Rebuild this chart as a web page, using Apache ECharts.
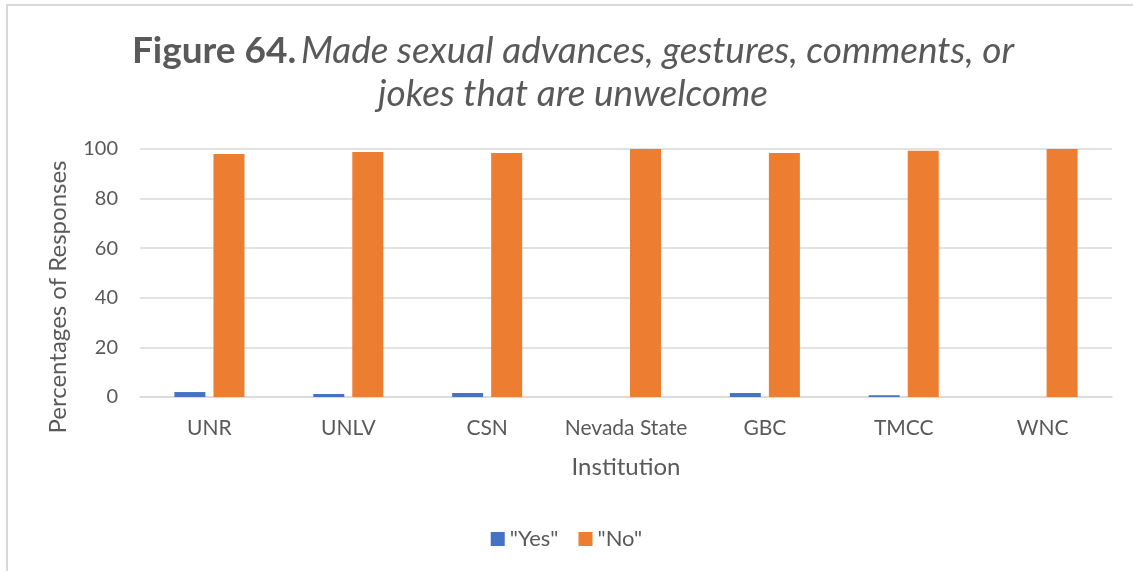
<!DOCTYPE html>
<html>
<head>
<meta charset="utf-8">
<script src="https://cdn.jsdelivr.net/npm/echarts@6/dist/echarts.min.js"></script>
<style>
html,body{margin:0;padding:0;background:#fff;}
#chart{width:1133px;height:571px;}
</style>
</head>
<body>
<div id="chart"></div>
<script>
const categories = ["UNR", "UNLV", "CSN", "Nevada State", "GBC", "TMCC", "WNC"];
const yesValues = [2.0, 1.2, 1.6, 0, 1.6, 0.7, 0];
const noValues = [98.0, 98.8, 98.4, 100, 98.4, 99.3, 100];
const yTicks = [0, 20, 40, 60, 80, 100];

const FONT = 'Lato';
const TXT = '#595959';
const chart = echarts.init(document.getElementById('chart'));
chart.setOption({
  animation: false,
  backgroundColor: '#fff',
  textStyle: { fontFamily: FONT },
  graphic: [
    { type: 'line', shape: { x1: 6, y1: 5, x2: 1133, y2: 5 }, style: { stroke: '#d9d9d9', lineWidth: 2 } },
    { type: 'line', shape: { x1: 7, y1: 4, x2: 7, y2: 571 }, style: { stroke: '#d9d9d9', lineWidth: 2 } }
  ],
  title: {
    text: '{b|Figure 64.} {i|Made sexual advances, gestures, comments, or}\n{i|jokes that are unwelcome}',
    left: 573, top: 30, textAlign: 'center', padding: 0,
    textStyle: {
      fontWeight: 'normal',
      rich: {
        b: { fontFamily: FONT, fontWeight: 'bold', fontSize: 37, color: TXT, lineHeight: 43 },
        i: { fontFamily: FONT, fontStyle: 'italic', fontWeight: 'normal', fontSize: 37, color: TXT, lineHeight: 43 }
      }
    }
  },
  legend: {
    data: ['"Yes"', '"No"'],
    left: 'center', top: 523,
    itemWidth: 14, itemHeight: 14, itemGap: 20,
    icon: 'rect',
    textStyle: { color: TXT, fontSize: 22, fontFamily: FONT }
  },
  grid: { left: 140, right: 21, top: 149, bottom: 174 },
  xAxis: {
    type: 'category',
    data: categories,
    name: 'Institution',
    nameLocation: 'middle',
    nameGap: 58,
    nameTextStyle: { color: TXT, fontSize: 24, fontFamily: FONT },
    axisLine: { lineStyle: { color: '#d9d9d9', width: 1.5 } },
    axisTick: { show: false },
    axisLabel: { color: TXT, fontSize: 21, fontFamily: FONT, margin: 21, interval: 0 }
  },
  yAxis: {
    type: 'value',
    min: 0, max: 100, interval: 20,
    name: 'Percentages of Responses',
    nameLocation: 'middle',
    nameGap: 70,
    nameTextStyle: { color: TXT, fontSize: 24, fontFamily: FONT, padding: [0, 48, 0, 0] },
    axisLine: { show: false },
    axisTick: { show: false },
    axisLabel: { color: TXT, fontSize: 20, fontFamily: FONT, margin: 22,
      formatter: v => yTicks.includes(v) ? String(v) : '' },
    splitLine: { lineStyle: { color: '#d9d9d9', width: 1.5 } }
  },
  series: [
    { name: '"Yes"', type: 'bar', data: yesValues, barWidth: 31, barGap: '26%', itemStyle: { color: '#4472C4' } },
    { name: '"No"', type: 'bar', data: noValues, barWidth: 31, barGap: '26%', itemStyle: { color: '#ED7D31' } }
  ]
});
</script>
</body>
</html>
